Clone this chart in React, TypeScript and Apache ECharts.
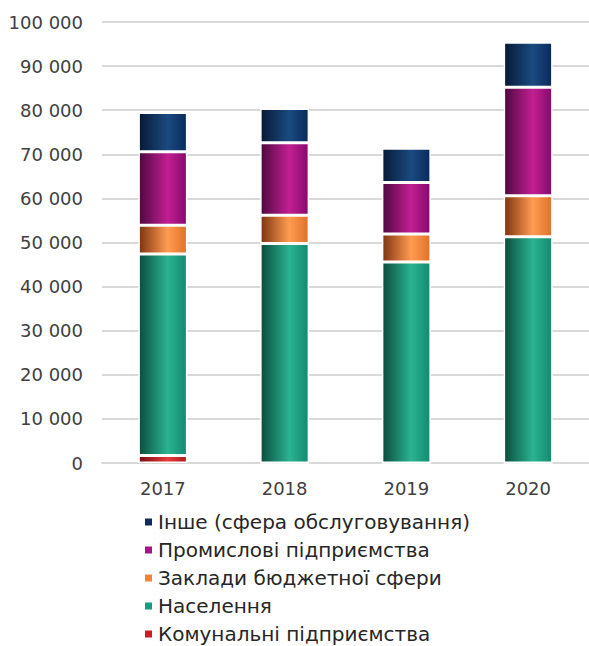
import React, { useEffect, useRef } from "react";
import * as echarts from "echarts";

const years = ["2017", "2018", "2019", "2020"];
const komunalni = [1700, 0, 0, 0];
const naselennia = [45700, 49800, 45600, 51300];
const zaklady = [6500, 6400, 6300, 9300];
const promyslovi = [16700, 16400, 11700, 24600];
const inshe = [8900, 7800, 7800, 10200];
const yTicks = [0, 10000, 20000, 30000, 40000, 50000, 60000, 70000, 80000, 90000, 100000];

const names = {
  k: "Комунальні підприємства",
  n: "Населення",
  z: "Заклади бюджетної сфери",
  p: "Промислові підприємства",
  i: "Інше (сфера обслуговування)",
};

const grad = (a: string, b: string, c: string) =>
  new echarts.graphic.LinearGradient(0, 0, 1, 0, [
    { offset: 0, color: a },
    { offset: 0.6, color: b },
    { offset: 1, color: c },
  ]);

const FONT = "DejaVu Sans";

export default function App() {
  const ref = useRef<HTMLDivElement>(null);
  useEffect(() => {
    document.body.style.margin = "0";
    const chart = echarts.init(ref.current!, undefined, { renderer: "svg" });
    const mk = (name: string, data: number[], fill: any) => ({
      name,
      type: "bar",
      stack: "total",
      data,
      barWidth: 49,
      itemStyle: { color: fill, borderColor: "#ffffff", borderWidth: 1.5 },
    });
    chart.setOption({
      animation: false,
      textStyle: { fontFamily: FONT },
      grid: { left: 102, right: 0, top: 22, bottom: 183, containLabel: false },
      xAxis: {
        type: "category",
        data: years,
        axisLine: { lineStyle: { color: "#d9d9d9", width: 2 } },
        axisTick: { show: false },
        axisLabel: { color: "#404040", fontSize: 18, margin: 16, fontFamily: FONT },
      },
      yAxis: {
        type: "value",
        min: yTicks[0],
        max: yTicks[yTicks.length - 1],
        interval: 10000,
        axisLine: { show: false },
        axisTick: { show: false },
        splitLine: { lineStyle: { color: "#d9d9d9", width: 2 } },
        axisLabel: {
          color: "#404040",
          fontSize: 18,
          margin: 19,
          fontFamily: FONT,
          formatter: (v: number) => String(v).replace(/\B(?=(\d{3})+(?!\d))/g, " "),
        },
      },
      legend: {
        orient: "vertical",
        left: 143,
        top: 512,
        height: 134,
        padding: 0,
        itemWidth: 9,
        itemHeight: 9,
        itemGap: 8,
        icon: "rect",
        textStyle: { color: "#262626", fontSize: 20, lineHeight: 20, fontFamily: FONT },
        data: [
          { name: names.i, itemStyle: { color: "#0e2b5c" } },
          { name: names.p, itemStyle: { color: "#a3168a" } },
          { name: names.z, itemStyle: { color: "#ee8439" } },
          { name: names.n, itemStyle: { color: "#1b9a80" } },
          { name: names.k, itemStyle: { color: "#c42026" } },
        ],
      },
      series: [
        mk(names.k, komunalni, grad("#7a0c10", "#e43a3a", "#b01c20")),
        mk(names.n, naselennia, grad("#0b4d3c", "#2ab391", "#138a70")),
        mk(names.z, zaklady, grad("#7e3410", "#ff9c52", "#de7228")),
        mk(names.p, promyslovi, grad("#4e0840", "#c21f92", "#860a6c")),
        mk(names.i, inshe, grad("#071a36", "#1b4a80", "#0a2a5c")),
      ],
    });
    return () => chart.dispose();
  }, []);
  return <div ref={ref} style={{ width: 589, height: 646 }} />;
}
